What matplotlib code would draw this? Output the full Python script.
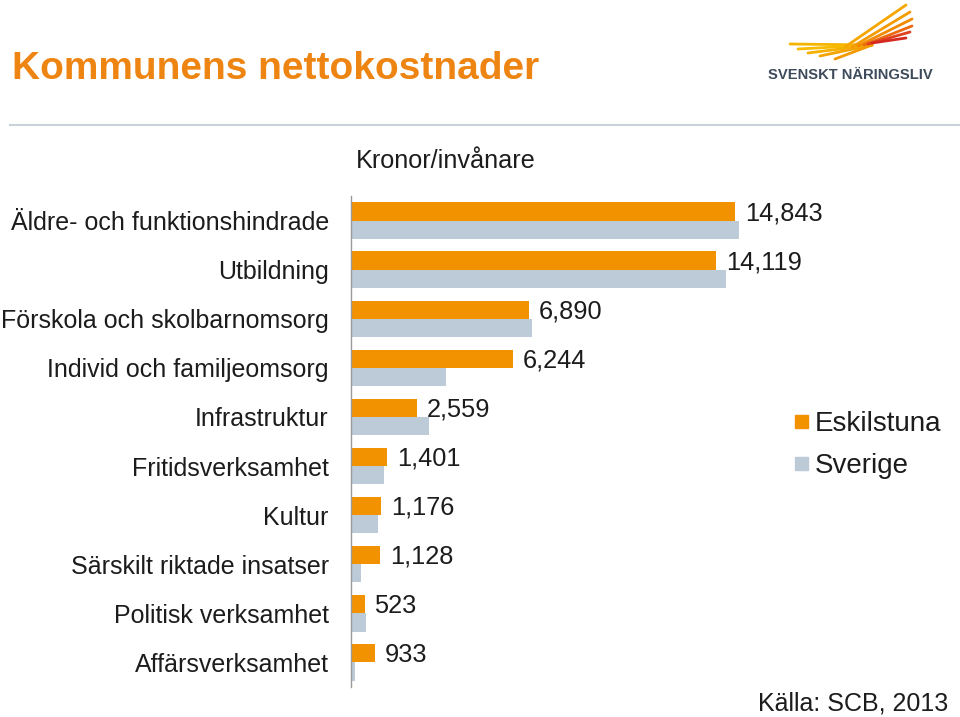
import numpy as np
import matplotlib
matplotlib.use('Agg')
import matplotlib.pyplot as plt
from matplotlib.patches import Rectangle

plt.rcParams['font.family'] = ['Liberation Sans', 'DejaVu Sans']

categories = ['Äldre- och funktionshindrade', 'Utbildning', 'Förskola och skolbarnomsorg',
              'Individ och familjeomsorg', 'Infrastruktur', 'Fritidsverksamhet', 'Kultur',
              'Särskilt riktade insatser', 'Politisk verksamhet', 'Affärsverksamhet']
eskilstuna = [14843, 14119, 6890, 6244, 2559, 1401, 1176, 1128, 523, 933]
sverige = [15000, 14500, 7000, 3670, 3010, 1270, 1040, 390, 580, 150]
series = ['Eskilstuna', 'Sverige']

orange = '#F39200'
blue = '#BCCBD7'
txt = '#1c1c1c'

fig = plt.figure(figsize=(9.6, 7.17), dpi=100)
ax = fig.add_axes([351 / 960, 30 / 717, 549 / 960, 491 / 717])

y = np.arange(len(categories))
h = 0.37
ax.barh(y - h / 2, eskilstuna, height=h, color=orange)
ax.barh(y + h / 2, sverige, height=h, color=blue)

for i, v in enumerate(eskilstuna):
    ax.annotate(f'{v:,}', xy=(v, i - h / 2), xytext=(7, -1.2), textcoords='offset points',
                va='center', ha='left', fontsize=18.3, color=txt)

ax.set_xlim(0, 549 / 0.02587)
ax.set_ylim(len(categories) - 0.5, -0.5)
ax.set_yticks(y)
ax.set_yticklabels(categories, fontsize=18, color=txt)
ax.tick_params(axis='y', length=0, pad=16)
ax.set_xticks([])
for s in ['top', 'right', 'bottom']:
    ax.spines[s].set_visible(False)
ax.spines['left'].set_color('#999999')
ax.spines['left'].set_linewidth(1)

# title, separator and subtitle
fig.text(12 / 960, 1 - 69 / 717, 'Kommunens nettokostnader', fontsize=28, fontweight='bold',
         color='#EE8411', va='center', ha='left')
fig.add_artist(plt.Line2D([10 / 960, 1], [1 - 125 / 717, 1 - 125 / 717], color='#C9D1D9', lw=1.5))
fig.text(446 / 960, 1 - 161 / 717, 'Kronor/invånare', fontsize=18.2, color=txt,
         ha='center', va='center')

# legend
for k, (name, c) in enumerate(zip(series, [orange, blue])):
    yc = 1 - (421 + 42 * k) / 717
    fig.add_artist(Rectangle((795 / 960, yc - 6.5 / 717), 13 / 960, 13 / 717, color=c,
                             transform=fig.transFigure))
    fig.text(815 / 960, yc - 3 / 717, name, fontsize=20, color=txt, ha='left', va='center')

fig.text(948 / 960, 1 - 704 / 717, 'Källa: SCB, 2013', fontsize=18, color=txt,
         ha='right', va='center')

# logo
fig.text(768 / 960, 1 - 75 / 717, 'SVENSKT NÄRINGSLIV', fontsize=10.6, fontweight='bold',
         color='#3D4B5C', ha='left', va='center')
left_tips = [((790, 44), '#F5B400'), ((798, 49), '#F7BC00'), ((808, 53), '#F5B000'),
             ((820, 56), '#F3A400'), ((835, 59), '#F29A00')]
for (x0, y0), c in left_tips:
    fig.add_artist(plt.Line2D([x0 / 960, 872 / 960], [1 - y0 / 717, 1 - 45 / 717], color=c,
                              lw=2, solid_capstyle='round'))
right_feathers = [((845, 47), (906, 5), '#F7A600'), ((852, 47), (910, 12), '#F59A00'),
                  ((858, 46), (912, 19), '#F08A00'), ((864, 45), (912, 26), '#EC6A10'),
                  ((868, 44), (910, 32), '#E04020'), ((872, 43), (906, 38), '#D42A22')]
for (x0, y0), (x1, y1), c in right_feathers:
    fig.add_artist(plt.Line2D([x0 / 960, x1 / 960], [1 - y0 / 717, 1 - y1 / 717], color=c,
                              lw=2, solid_capstyle='round'))

fig.savefig('out.png', dpi=100)
